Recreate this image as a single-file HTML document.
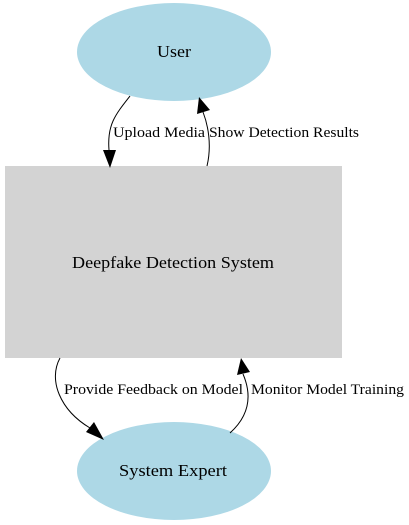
<!DOCTYPE html>
<html><head><style>body{margin:0;background:#fff}svg{display:block}</style></head><body>
<svg width="409" height="525" xmlns="http://www.w3.org/2000/svg" font-family="Liberation Serif, serif">
<rect width="409" height="525" fill="#fff"/>
<ellipse cx="174" cy="52" rx="97" ry="49" fill="#add8e6"/>
<text x="157" y="57" font-size="17" textLength="34" lengthAdjust="spacingAndGlyphs">User</text>
<rect x="5" y="166" width="337" height="192" fill="#d3d3d3"/>
<text x="72" y="268" font-size="17" textLength="202" lengthAdjust="spacingAndGlyphs">Deepfake Detection System</text>
<ellipse cx="174" cy="471" rx="97" ry="49" fill="#add8e6"/>
<text x="119" y="476" font-size="17" textLength="108" lengthAdjust="spacingAndGlyphs">System Expert</text>
<g fill="none" stroke="#000" stroke-width="1">
<path d="M130,96 C115,115 107,125 109,150"/>
<path d="M207,166 C212,145 208,125 203,112"/>
<path d="M60,358 C48,380 60,410 90,428"/>
<path d="M230,433 C250,415 252,395 243,374"/>
</g>
<g fill="#000">
<polygon points="103,150 116,150 110,168"/>
<polygon points="197,114 210,110 199,97"/>
<polygon points="86,432 94,422 104,440"/>
<polygon points="237,375 250,372 241,358"/>
</g>
<g font-size="14.5">
<text x="113" y="137" textLength="92" lengthAdjust="spacingAndGlyphs">Upload Media</text>
<text x="209" y="137" textLength="150" lengthAdjust="spacingAndGlyphs">Show Detection Results</text>
<text x="64" y="394" textLength="179" lengthAdjust="spacingAndGlyphs">Provide Feedback on Model</text>
<text x="251" y="394" textLength="153" lengthAdjust="spacingAndGlyphs">Monitor Model Training</text>
</g>
</svg>
</body></html>
